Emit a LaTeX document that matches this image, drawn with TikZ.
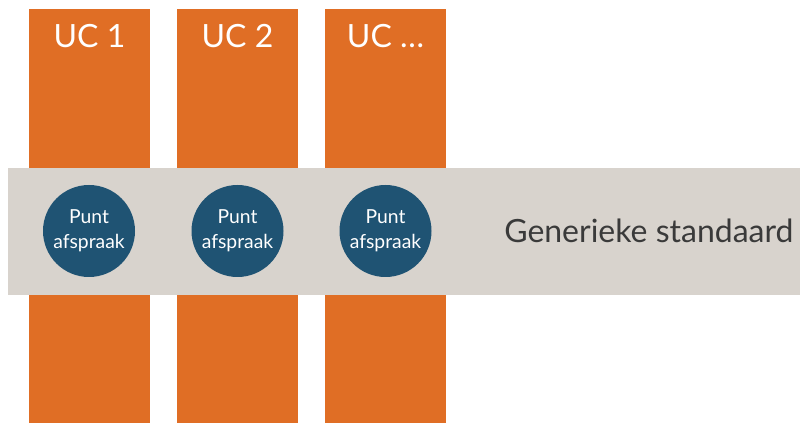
\documentclass[tikz,border=0pt]{standalone}
\usepackage{fontspec}
\setmainfont{Lato}
\usepackage{tikz}

\definecolor{ucorange}{RGB}{224,110,37}
\definecolor{bandgray}{RGB}{216,211,205}
\definecolor{puntblue}{RGB}{31,83,115}
\definecolor{labelgray}{RGB}{58,58,58}

\tikzset{
  ucbar/.style={draw=none,fill=ucorange},
  uclabel/.style={anchor=base,inner sep=0.75pt,font=\fontsize{24}{30}\selectfont,text=white},
  puntcircle/.style={circle,draw=none,fill=puntblue,minimum size=69pt,inner sep=0pt,
    align=center,font=\fontsize{14.5}{18.5}\selectfont,text=white}
}

\begin{document}
\begin{tikzpicture}[x=0.75pt,y=0.75pt,yscale=-1,xscale=1]
\useasboundingbox (0,0) rectangle (800,423);

%Shape: Rectangle [id:uc1]
\draw [ucbar] (29,9) -- (150,9) -- (150,423) -- (29,423) -- cycle ;
%Shape: Rectangle [id:uc2]
\draw [ucbar] (177,9) -- (298,9) -- (298,423) -- (177,423) -- cycle ;
%Shape: Rectangle [id:uc3]
\draw [ucbar] (325,9) -- (446,9) -- (446,423) -- (325,423) -- cycle ;
%Shape: Rectangle [id:band]
\draw [draw=none,fill=bandgray] (8,168) -- (800,168) -- (800,295) -- (8,295) -- cycle ;

% Text Node
\node (uclabel1) [uclabel] at (89.5,48) {UC 1};
% Text Node
\node (uclabel2) [uclabel] at (237.5,48) {UC 2};
% Text Node
\node (uclabel3) [uclabel] at (385.5,48) {UC …};

% Circle Node
\node (punt1) [puntcircle] at (89,231) {Punt\\afspraak};
% Circle Node
\node (punt2) [puntcircle] at (237.5,231) {Punt\\afspraak};
% Circle Node
\node (punt3) [puntcircle] at (385.5,231) {Punt\\afspraak};

% Text Node
\node (generiek) [anchor=base west,inner sep=0pt,font=\fontsize{24}{30}\selectfont,text=labelgray] at (504,243) {Generieke standaard};

\end{tikzpicture}
\end{document}
